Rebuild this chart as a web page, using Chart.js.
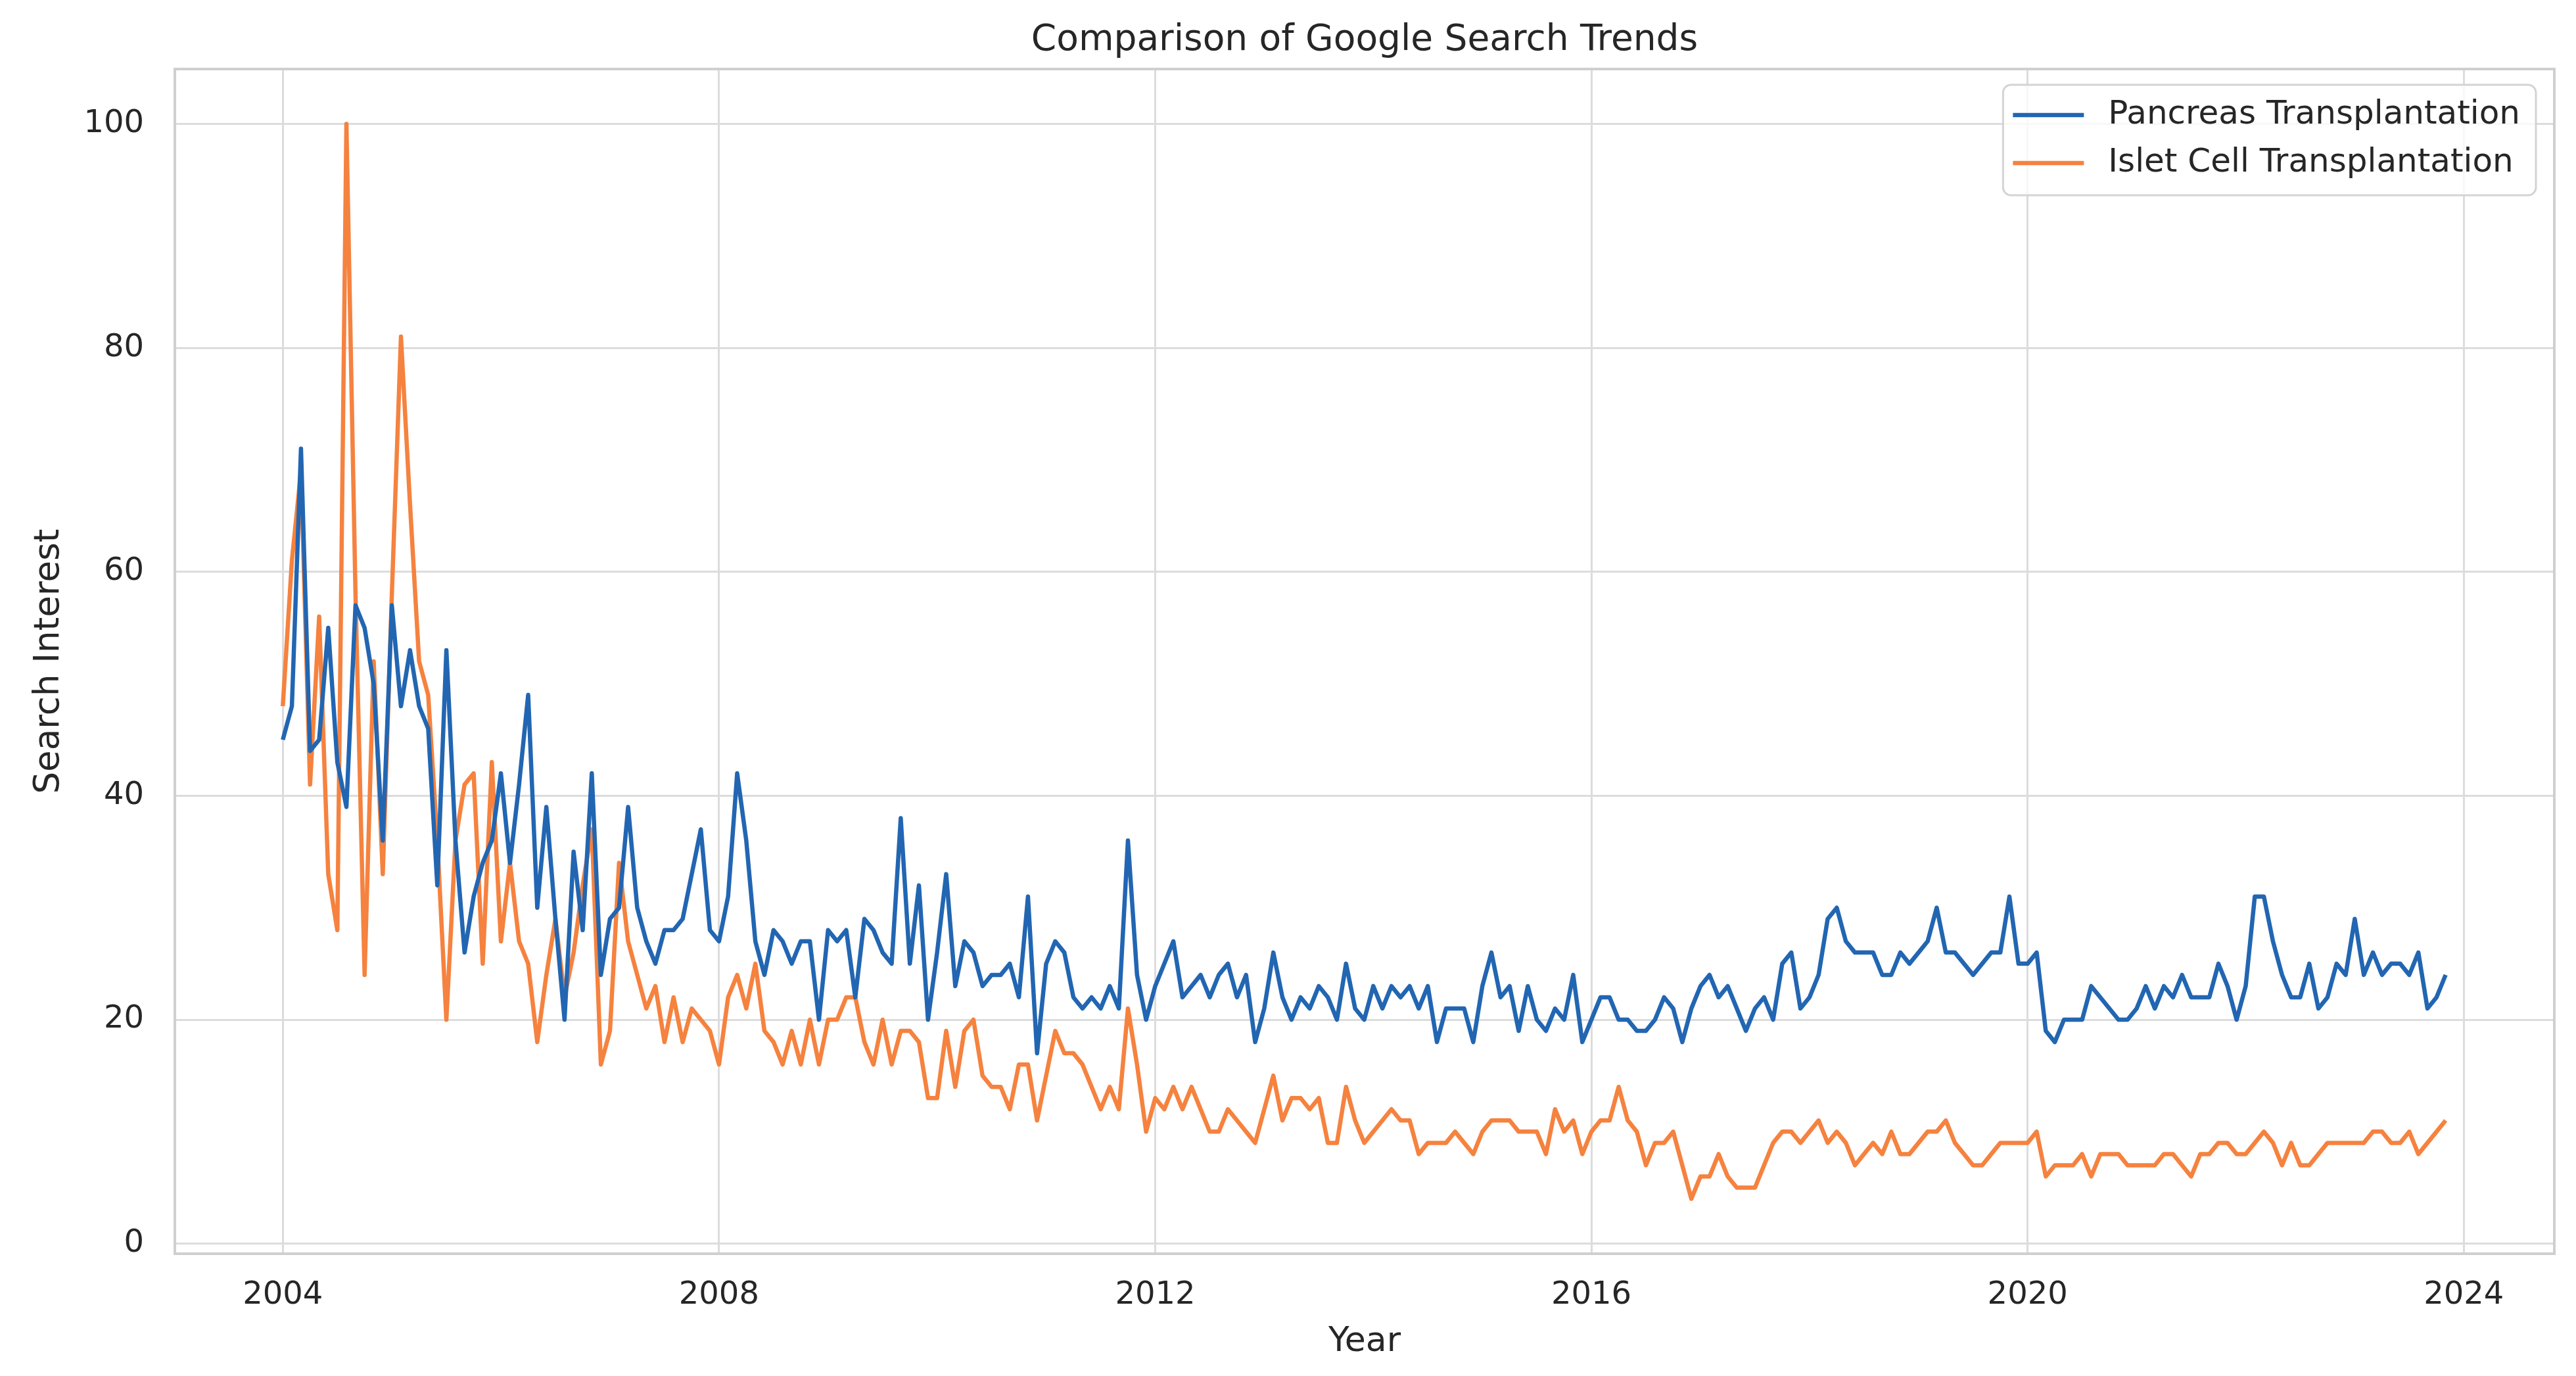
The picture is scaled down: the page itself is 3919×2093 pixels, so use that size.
<!DOCTYPE html>
<html>
<head>
<meta charset="utf-8">
<title>Comparison of Google Search Trends</title>
<script src="https://cdn.jsdelivr.net/npm/chart.js@4.4.1/dist/chart.umd.min.js"></script>
<style>
  body { margin: 0; background: #fff; }
  canvas { display: block; }
</style>
</head>
<body>
<canvas id="trendChart" width="3919" height="2093"></canvas>
<script>
// monthly values, first one is Jan 2004
const startYear = 2004;

const pancreas = [
  45, 48, 71, 44, 45, 55, 43, 39, 57, 55, 50, 36,
  57, 48, 53, 48, 46, 32, 53, 36, 26, 31, 34, 36,
  42, 34, 41, 49, 30, 39, 29, 20, 35, 28, 42, 24,
  29, 30, 39, 30, 27, 25, 28, 28, 29, 33, 37, 28,
  27, 31, 42, 36, 27, 24, 28, 27, 25, 27, 27, 20,
  28, 27, 28, 22, 29, 28, 26, 25, 38, 25, 32, 20,
  26, 33, 23, 27, 26, 23, 24, 24, 25, 22, 31, 17,
  25, 27, 26, 22, 21, 22, 21, 23, 21, 36, 24, 20,
  23, 25, 27, 22, 23, 24, 22, 24, 25, 22, 24, 18,
  21, 26, 22, 20, 22, 21, 23, 22, 20, 25, 21, 20,
  23, 21, 23, 22, 23, 21, 23, 18, 21, 21, 21, 18,
  23, 26, 22, 23, 19, 23, 20, 19, 21, 20, 24, 18,
  20, 22, 22, 20, 20, 19, 19, 20, 22, 21, 18, 21,
  23, 24, 22, 23, 21, 19, 21, 22, 20, 25, 26, 21,
  22, 24, 29, 30, 27, 26, 26, 26, 24, 24, 26, 25,
  26, 27, 30, 26, 26, 25, 24, 25, 26, 26, 31, 25,
  25, 26, 19, 18, 20, 20, 20, 23, 22, 21, 20, 20,
  21, 23, 21, 23, 22, 24, 22, 22, 22, 25, 23, 20,
  23, 31, 31, 27, 24, 22, 22, 25, 21, 22, 25, 24,
  29, 24, 26, 24, 25, 25, 24, 26, 21, 22, 24
];

const islet = [
  48, 61, 69, 41, 56, 33, 28, 100, 58, 24, 52, 33,
  58, 81, 66, 52, 49, 36, 20, 36, 41, 42, 25, 43,
  27, 34, 27, 25, 18, 24, 29, 22, 26, 32, 37, 16,
  19, 34, 27, 24, 21, 23, 18, 22, 18, 21, 20, 19,
  16, 22, 24, 21, 25, 19, 18, 16, 19, 16, 20, 16,
  20, 20, 22, 22, 18, 16, 20, 16, 19, 19, 18, 13,
  13, 19, 14, 19, 20, 15, 14, 14, 12, 16, 16, 11,
  15, 19, 17, 17, 16, 14, 12, 14, 12, 21, 16, 10,
  13, 12, 14, 12, 14, 12, 10, 10, 12, 11, 10, 9,
  12, 15, 11, 13, 13, 12, 13, 9, 9, 14, 11, 9,
  10, 11, 12, 11, 11, 8, 9, 9, 9, 10, 9, 8,
  10, 11, 11, 11, 10, 10, 10, 8, 12, 10, 11, 8,
  10, 11, 11, 14, 11, 10, 7, 9, 9, 10, 7, 4,
  6, 6, 8, 6, 5, 5, 5, 7, 9, 10, 10, 9,
  10, 11, 9, 10, 9, 7, 8, 9, 8, 10, 8, 8,
  9, 10, 10, 11, 9, 8, 7, 7, 8, 9, 9, 9,
  9, 10, 6, 7, 7, 7, 8, 6, 8, 8, 8, 7,
  7, 7, 7, 8, 8, 7, 6, 8, 8, 9, 9, 8,
  8, 9, 10, 9, 7, 9, 7, 7, 8, 9, 9, 9,
  9, 9, 10, 10, 9, 9, 10, 8, 9, 10, 11
];

const yearTicks = [2004, 2008, 2012, 2016, 2020, 2024];
const interestTicks = [0, 20, 40, 60, 80, 100];

const textColor = '#262626';
const gridColor = '#dcdcdc';

Chart.defaults.font.family = '"DejaVu Sans", sans-serif';
Chart.defaults.color = textColor;

function toPoints(values) {
  return values.map((v, i) => ({ x: startYear + i / 12, y: v }));
}

// spines on all four sides + legend drawn inside the plot (top right)
const frameAndLegend = {
  id: 'frameAndLegend',
  afterDatasetsDraw(chart) {
    const c = chart.ctx;
    const area = chart.chartArea;
    c.save();
    c.strokeStyle = '#cfcfcf';
    c.lineWidth = 4;
    c.strokeRect(area.left, area.top, area.right - area.left, area.bottom - area.top);

    const sets = chart.data.datasets;
    c.font = '50px "DejaVu Sans", sans-serif';
    let textW = 0;
    sets.forEach(d => { textW = Math.max(textW, c.measureText(d.label).width); });
    const w = 160 + textW + 24;
    const h = 168;
    const x = area.right - 28 - w;
    const y = area.top + 24;
    c.beginPath();
    c.roundRect(x, y, w, h, 12);
    c.fillStyle = 'rgba(255,255,255,0.8)';
    c.fill();
    c.strokeStyle = '#d4d4d4';
    c.lineWidth = 3;
    c.stroke();
    sets.forEach((d, i) => {
      const rowY = y + 46 + i * 73;
      c.beginPath();
      c.moveTo(x + 15, rowY);
      c.lineTo(x + 123, rowY);
      c.strokeStyle = d.borderColor;
      c.lineWidth = d.borderWidth;
      c.stroke();
      c.fillStyle = textColor;
      c.textBaseline = 'middle';
      c.textAlign = 'left';
      c.fillText(d.label, x + 160, rowY);
    });
    c.restore();
  }
};

const ctx = document.getElementById('trendChart');

new Chart(ctx, {
  type: 'line',
  data: {
    datasets: [{
      label: 'Pancreas Transplantation',
      data: toPoints(pancreas),
      borderColor: '#2266b2',
      borderWidth: 6.5,
      pointRadius: 0,
      tension: 0,
      borderJoinStyle: 'round'
    }, {
      label: 'Islet Cell Transplantation',
      data: toPoints(islet),
      borderColor: '#f5823f',
      borderWidth: 6.5,
      pointRadius: 0,
      tension: 0,
      borderJoinStyle: 'round'
    }]
  },
  options: {
    responsive: false,
    animation: false,
    layout: { padding: { left: 0, right: 33, top: 0, bottom: 0 } },
    plugins: {
      legend: { display: false },
      tooltip: { enabled: false },
      title: {
        display: true,
        fullSize: false,
        text: 'Comparison of Google Search Trends',
        color: textColor,
        font: { size: 55, weight: 'normal' },
        padding: { top: 29, bottom: 10 }
      }
    },
    scales: {
      x: {
        type: 'linear',
        min: 2003.01,
        max: 2024.83,
        afterBuildTicks(scale) {
          scale.ticks = yearTicks.map(v => ({ value: v }));
        },
        afterFit(scale) {
          scale.height = 186;
        },
        ticks: {
          font: { size: 48 },
          color: textColor,
          padding: 35,
          callback: v => String(v)
        },
        grid: { color: gridColor, lineWidth: 3, drawTicks: false },
        border: { display: false },
        title: {
          display: true,
          text: 'Year',
          color: textColor,
          font: { size: 52 },
          padding: { top: 0, bottom: 20 }
        }
      },
      y: {
        min: -0.9,
        max: 104.9,
        afterBuildTicks(scale) {
          scale.ticks = interestTicks.map(v => ({ value: v }));
        },
        afterFit(scale) {
          scale.width = 266;
        },
        ticks: {
          font: { size: 48 },
          color: textColor,
          padding: 47,
          callback: v => String(v)
        },
        grid: { color: gridColor, lineWidth: 3, drawTicks: false },
        border: { display: false },
        title: {
          display: true,
          text: 'Search Interest',
          color: textColor,
          font: { size: 53 },
          padding: { top: 43, bottom: 0 }
        }
      }
    }
  },
  plugins: [frameAndLegend]
});
</script>
</body>
</html>
